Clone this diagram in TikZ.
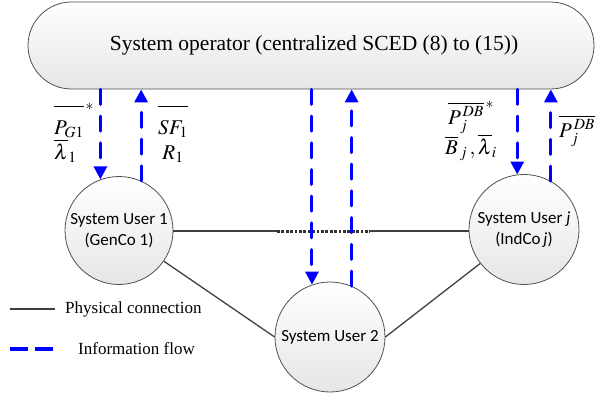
\documentclass[tikz,border=0pt]{standalone}
\usepackage{amsmath}
\usepackage{mathptmx}
\usepackage{fontspec}
\setmainfont{Liberation Serif}
\newfontfamily\userfont{Carlito}
\usepackage{tikz}
\usetikzlibrary{
  arrows.meta,
  positioning,
  calc
}
\definecolor{InfoBlue}{RGB}{0,0,255}
\definecolor{LinkGray}{RGB}{64,64,64}
\definecolor{EdgeGray}{RGB}{80,80,80}
\definecolor{ShadeGray}{RGB}{230,230,230}
\newcommand{\tallbar}[1]{\overline{\rule{0pt}{1.2em}#1}}
\tikzset{
  opbox/.style={draw=EdgeGray,line width=0.8pt,rounded corners=43.5pt,minimum width=566pt,minimum height=87pt,top color=white,bottom color=ShadeGray,font=\fontsize{21.5}{26}\selectfont},
  usernode/.style={circle,draw=EdgeGray,line width=0.8pt,minimum size=110pt,inner sep=0pt,align=center,top color=white,bottom color=ShadeGray,font=\userfont\fontsize{17}{21}\selectfont},
  physlink/.style={draw=LinkGray,line width=1.3pt},
  dotlink/.style={draw=LinkGray!80!black,line width=3pt,dash pattern=on 2.8pt off 1.6pt},
  infoflow/.style={-{Triangle[length=13pt,width=13pt]},draw=InfoBlue,line width=3pt,dash pattern=on 15pt off 11.7pt,line cap=round},
  infolegend/.style={draw=InfoBlue,line width=4pt,dash pattern=on 18pt off 7pt},
  mathlabel/.style={inner sep=0pt,align=center,font=\fontsize{21}{25}\selectfont},
  legendtext/.style={inner sep=0pt,anchor=west,font=\fontsize{17}{20}\selectfont}
}

\begin{document}
\begin{tikzpicture}[x=1pt,y=-1pt]
\useasboundingbox (0,0) rectangle (600,397);

\node[opbox] (so) at (311,45.5) {\hspace*{6pt}System operator (centralized SCED (8) to (15))};
\node[usernode,minimum size=108pt] (u1) at (119,230.5) {System User 1\\(GenCo 1)};
\node[usernode] (u2) at (330,337) {System User 2};
\node[usernode] (uj) at (524,229.5) {System User \textit{j}\\(IndCo\,\textit{j})};

% Physical network between the users.
\coordinate (d1) at (277,231);
\coordinate (d2) at (370,231);
\draw[physlink] (u1.east |- d1) -- (d1);
\draw[dotlink] (d1) -- (d2);
\draw[physlink] (d2) -- (uj.west |- d2);
\draw[physlink] (u1) -- (u2.west);
\draw[physlink] (u2.east) -- (uj);

% Information exchange with the operator.
\draw[infoflow] (u1.110 |- so.south) -- (u1.110);
\draw[infoflow] (u1.66) -- (u1.66 |- so.south);
\draw[infoflow] (u2.109 |- so.south) -- (u2.109);
\draw[infoflow] (u2.67.5) -- (u2.67.5 |- so.south);
\draw[infoflow] (uj.97 |- so.south) -- (uj.97);
\draw[infoflow] (uj.61) -- (uj.61 |- so.south);

\node[mathlabel,align=left,anchor=west] (l1) at (54,133) {$\tallbar{P_{G1}}^{\,*}$\\$\overline{\lambda}_1$};
\node[mathlabel] (r1) at (173,134) {$\tallbar{SF_1}$\\$R_1$};
\node[mathlabel] (lj) at (471,131) {$\overline{P_{\,j}^{\,DB}}^{\,*}$\\$\overline{B}_{\,j}\,,\overline{\lambda}_{i}$};
\node[mathlabel,anchor=west] (rj) at (559,131) {$\overline{P_{\,j}^{\,DB}}$};

% Legend.
\coordinate (ph1) at (10,309);
\coordinate (ph2) at (55,309);
\coordinate (if1) at (10,349);
\coordinate (if2) at (55,349);
\draw[physlink] (ph1) -- (ph2);
\draw[infolegend] (if1) -- (if2);
\node[legendtext] (phtext) at (65,309) {Physical connection};
\node[legendtext] (iftext) at (78,349) {Information flow};
\end{tikzpicture}
\end{document}
